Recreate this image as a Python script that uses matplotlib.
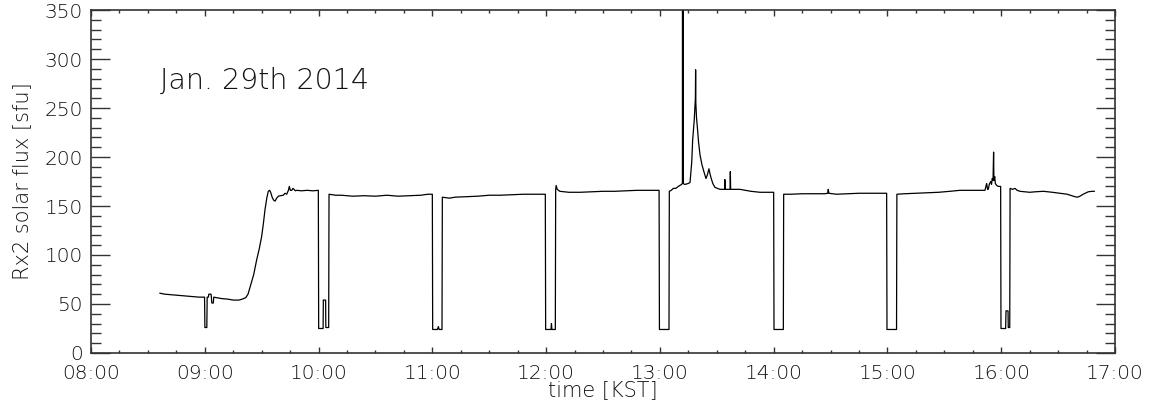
import matplotlib
matplotlib.use('Agg')
import matplotlib.pyplot as plt
from matplotlib.ticker import MultipleLocator, FuncFormatter

# tiempo en horas decimales (KST) y flujo en sfu
tiempo = [
    8.606, 8.65, 8.70, 8.75, 8.80, 8.85, 8.90, 8.95, 8.998,
    9.001, 9.018, 9.021, 9.032, 9.035, 9.055, 9.058, 9.062, 9.075, 9.079,
    9.10, 9.15, 9.20, 9.25, 9.30, 9.33, 9.36, 9.38, 9.40, 9.43, 9.456,
    9.48, 9.50, 9.515, 9.529, 9.545, 9.558, 9.57, 9.579, 9.592, 9.605,
    9.618, 9.632, 9.646, 9.665, 9.690, 9.705, 9.720, 9.735, 9.743, 9.752,
    9.764, 9.775, 9.784, 9.796, 9.808, 9.85, 9.90, 9.95, 9.998,
    10.001, 10.040, 10.042, 10.062, 10.064, 10.089, 10.092,
    10.15, 10.20, 10.30, 10.40, 10.50, 10.60, 10.70, 10.80, 10.90, 10.96, 11.000,
    11.003, 11.045, 11.053, 11.060, 11.085, 11.088,
    11.15, 11.20, 11.30, 11.40, 11.50, 11.60, 11.70, 11.80, 11.90, 11.993,
    11.996, 12.043, 12.047, 12.051, 12.081, 12.084, 12.088, 12.098,
    12.12, 12.20, 12.30, 12.40, 12.50, 12.60, 12.70, 12.80, 12.90, 12.993,
    12.996, 13.080, 13.083, 13.10, 13.118, 13.14, 13.162, 13.19, 13.198,
    13.199, 13.2005, 13.201, 13.2025, 13.22, 13.25, 13.265, 13.28, 13.288,
    13.302, 13.312, 13.314, 13.316, 13.322, 13.329, 13.340, 13.353, 13.368,
    13.382, 13.395, 13.405, 13.418, 13.431, 13.440, 13.449, 13.465, 13.484,
    13.505, 13.528, 13.569, 13.571, 13.574, 13.617, 13.619, 13.622, 13.65,
    13.704, 13.75, 13.80, 13.88, 13.95, 14.000,
    14.003, 14.085, 14.088, 14.15, 14.25, 14.35, 14.45, 14.475, 14.48, 14.485,
    14.55, 14.65, 14.75, 14.85, 14.993,
    14.996, 15.08, 15.083, 15.15, 15.25, 15.35, 15.45, 15.55, 15.637, 15.70,
    15.80, 15.857, 15.872, 15.880, 15.886, 15.895, 15.907, 15.915, 15.921,
    15.928, 15.933, 15.936, 15.943, 15.948, 15.960, 15.975, 15.989, 15.995,
    15.998, 16.039, 16.042, 16.060, 16.062, 16.075, 16.078,
    16.10, 16.121, 16.14, 16.165, 16.25, 16.30, 16.370, 16.45, 16.516, 16.58,
    16.62, 16.648, 16.67, 16.692, 16.72, 16.765, 16.80, 16.818,
]
flujo = [
    61, 60, 59.5, 59, 58.5, 58, 57.5, 57, 57,
    26, 26, 57, 57, 60, 60, 57, 51, 51, 57,
    56.5, 55.5, 55, 54, 54, 55, 56.5, 60, 68, 80, 95,
    107, 119, 132, 146, 158, 165, 166, 164, 159, 156,
    155, 158, 160, 160.5, 161, 163, 162, 166, 170, 166,
    166, 168, 167, 165.5, 166, 165.5, 166, 165.5, 166,
    25, 25, 54, 54, 26, 26, 162,
    161, 161, 160, 160.5, 160, 161, 160, 160.5, 161, 162, 162,
    24, 24, 27, 24, 24, 159,
    158, 159, 159.5, 160, 161, 161, 161.5, 162, 162, 162,
    24, 24, 30, 24, 24, 166, 171, 167,
    165, 164, 164, 164.5, 165, 165, 165.5, 166, 166, 166,
    24, 24, 165, 166, 168, 168, 170, 172, 173,
    500, 173, 500, 173, 172, 173, 174, 195, 217,
    238, 260, 289, 255, 240, 231, 215, 202, 193,
    187, 182, 178, 182, 188, 183, 179, 173, 169,
    168, 167, 167, 177, 167, 167, 185, 167, 167,
    167, 166, 165, 164, 164, 164,
    24, 24, 162, 162, 162.5, 162.5, 162.5, 163, 167, 163,
    162, 162.5, 163, 163, 163,
    24, 24, 162, 162.5, 163, 163.5, 164, 165, 166, 166,
    166, 166, 173, 167, 167, 172, 175, 172, 178,
    176, 205, 176, 180, 173, 171, 170, 170, 170,
    25, 25, 43, 43, 26, 26, 168,
    167, 168, 166, 165, 164, 164.5, 165, 164, 163, 162,
    160.5, 159.5, 159, 160, 162, 164.5, 165, 165,
]

plt.rcParams['font.family'] = ['DejaVu Sans']
plt.rcParams['font.weight'] = 'light'
plt.rcParams['axes.labelweight'] = 'light'

fig = plt.figure(figsize=(11.49, 4.05), dpi=100)
ax = fig.add_axes([0.0792, 0.1284, 0.8912, 0.8469])

ax.plot(tiempo, flujo, color='black', lw=0.9)

ax.set_xlim(8, 17)
ax.set_ylim(0, 350)

gris = '#333333'
texto = '#111111'
ax.xaxis.set_major_locator(MultipleLocator(1))
ax.xaxis.set_minor_locator(MultipleLocator(0.25))
ax.yaxis.set_major_locator(MultipleLocator(50))
ax.yaxis.set_minor_locator(MultipleLocator(10))
ax.xaxis.set_major_formatter(FuncFormatter(lambda v, p: '%02d:00' % int(round(v))))

ax.tick_params(axis='both', which='both', direction='in', top=True, right=True,
               color=gris, labelcolor=texto, labelsize=14.5, width=1)
ax.tick_params(axis='x', which='major', length=4.2, pad=8)
ax.tick_params(axis='x', which='minor', length=2)
ax.tick_params(axis='y', which='major', length=13.5, pad=6)
ax.tick_params(axis='y', which='minor', length=7)
for s in ax.spines.values():
    s.set_color(gris)
    s.set_linewidth(1.2)

ax.set_xlabel('time [KST]', fontsize=15, color=texto, labelpad=-2)
ax.set_ylabel('Rx2 solar flux [sfu]', fontsize=15, color=texto, labelpad=9)

ax.text(0.067, 0.769, 'Jan. 29th 2014', transform=ax.transAxes,
        fontsize=20.5, color=texto, va='baseline', ha='left')

fig.savefig('out.png', dpi=100)
